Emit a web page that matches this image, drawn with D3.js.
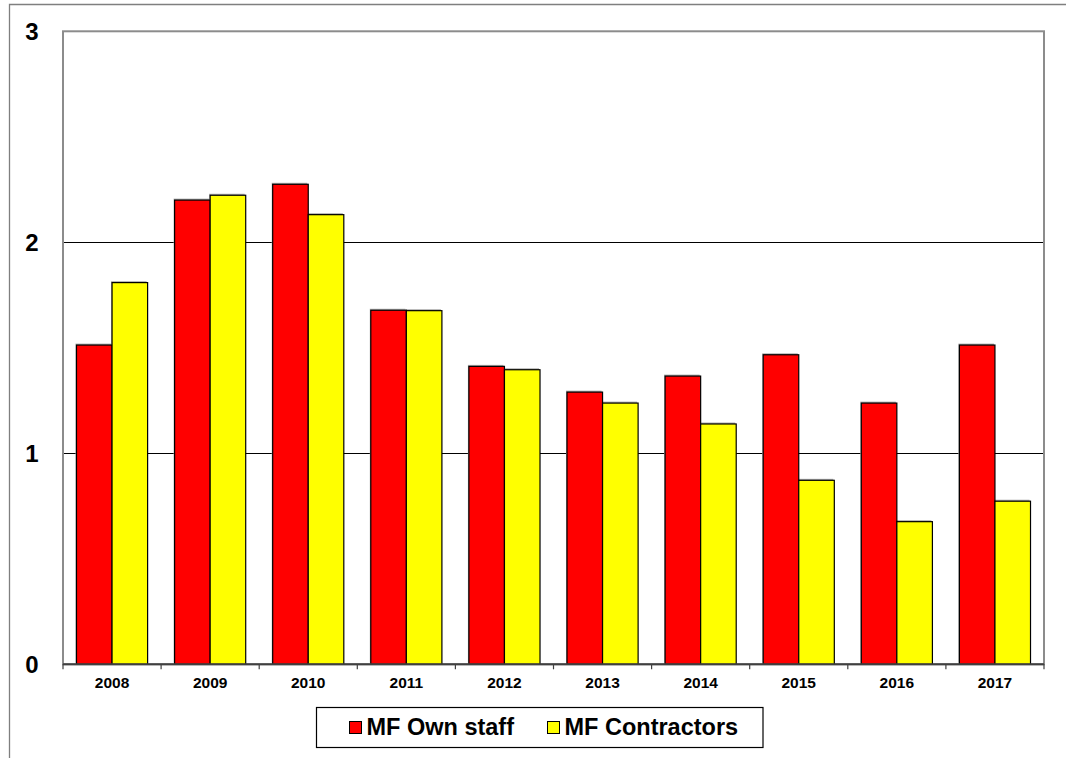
<!DOCTYPE html>
<html>
<head>
<meta charset="utf-8">
<script src="https://cdn.jsdelivr.net/npm/d3@7"></script>
<style>
  html, body { margin: 0; padding: 0; background: #fff; }
  svg { display: block; }
  text { font-family: "Liberation Sans", Arial, sans-serif; font-weight: bold; fill: #000; }
</style>
</head>
<body>
<svg id="chart" width="1066" height="758"></svg>
<script>
// Yearly values for the two staff groups
const years = ["2008", "2009", "2010", "2011", "2012", "2013", "2014", "2015", "2016", "2017"];
const ownStaff = [1.513, 2.20, 2.275, 1.678, 1.412, 1.29, 1.366, 1.467, 1.238, 1.513];
const contractors = [1.809, 2.223, 2.131, 1.676, 1.396, 1.238, 1.139, 0.872, 0.676, 0.773];
const seriesNames = ["MF Own staff", "MF Contractors"];
const seriesColors = ["#ff0000", "#ffff00"];
const yTicks = [0, 1, 2, 3];

const svg = d3.select("#chart");

// Outer chart frame (runs off the right and bottom edges)
svg.append("path")
  .attr("d", "M9.5,760 L9.5,4.5 L1070,4.5")
  .attr("fill", "none")
  .attr("stroke", "#7f7f7f")
  .attr("stroke-width", 1.3);

const plot = { left: 63, right: 1044, top: 31.3, bottom: 664.3 };

const x = d3.scaleBand()
  .domain(years)
  .range([plot.left, plot.right])
  .paddingInner(0.275)
  .paddingOuter(0.1375);

const xSeries = d3.scaleBand()
  .domain(seriesNames)
  .range([0, x.bandwidth()]);

const y = d3.scaleLinear()
  .domain([0, 3])
  .range([plot.bottom, plot.top]);

// Horizontal gridlines
svg.append("g")
  .selectAll("line")
  .data(yTicks.filter(t => t > 0 && t < 3))
  .join("line")
  .attr("x1", plot.left)
  .attr("x2", plot.right)
  .attr("y1", d => Math.round(y(d)) + 0.5)
  .attr("y2", d => Math.round(y(d)) + 0.5)
  .attr("stroke", "#000")
  .attr("stroke-width", 1);

// Plot area frame
svg.append("rect")
  .attr("x", plot.left)
  .attr("y", plot.top)
  .attr("width", plot.right - plot.left)
  .attr("height", plot.bottom - plot.top)
  .attr("fill", "none")
  .attr("stroke", "#8c8c8c")
  .attr("stroke-width", 2);

// Bars
const rows = years.map((yr, i) => ({ year: yr, values: [ownStaff[i], contractors[i]] }));

const groups = svg.append("g")
  .selectAll("g")
  .data(rows)
  .join("g")
  .attr("transform", d => `translate(${x(d.year)},0)`);

// soft shadow behind each bar
groups.selectAll("rect.shadow")
  .data(d => d.values.map((v, k) => ({ v, k })))
  .join("rect")
  .attr("class", "shadow")
  .attr("x", d => xSeries(seriesNames[d.k]) - 1)
  .attr("y", d => y(d.v) - 1.5)
  .attr("width", xSeries.bandwidth())
  .attr("height", d => y(0) - y(d.v))
  .attr("fill", "#b0b0b0");

groups.selectAll("rect.bar")
  .data(d => d.values.map((v, k) => ({ v, k })))
  .join("rect")
  .attr("class", "bar")
  .attr("x", d => xSeries(seriesNames[d.k]))
  .attr("y", d => y(d.v))
  .attr("width", xSeries.bandwidth())
  .attr("height", d => y(0) - y(d.v))
  .attr("fill", d => seriesColors[d.k])
  .attr("stroke", "#000")
  .attr("stroke-width", 1.2);

// X axis
const xAxisG = svg.append("g")
  .attr("transform", `translate(0,${plot.bottom})`);

xAxisG.append("line")
  .attr("x1", plot.left)
  .attr("x2", plot.right)
  .attr("y1", 0)
  .attr("y2", 0)
  .attr("stroke", "#404040")
  .attr("stroke-width", 2);

const boundaries = d3.range(years.length + 1).map(i => plot.left + i * (plot.right - plot.left) / years.length);
xAxisG.selectAll("line.tick")
  .data(boundaries)
  .join("line")
  .attr("class", "tick")
  .attr("x1", d => d)
  .attr("x2", d => d)
  .attr("y1", 0)
  .attr("y2", 5)
  .attr("stroke", "#404040")
  .attr("stroke-width", 1.2);

xAxisG.selectAll("text")
  .data(years)
  .join("text")
  .attr("x", d => x(d) + x.bandwidth() / 2)
  .attr("y", 24.2)
  .attr("text-anchor", "middle")
  .attr("font-size", "15.5px")
  .text(d => d);

// Y axis labels
svg.append("g")
  .selectAll("text")
  .data(yTicks)
  .join("text")
  .attr("x", 32)
  .attr("y", d => y(d) + 8.4)
  .attr("text-anchor", "middle")
  .attr("font-size", "24px")
  .text(d => d);

// Legend
const legend = svg.append("g");
legend.append("rect")
  .attr("x", 316.5)
  .attr("y", 707.5)
  .attr("width", 446.5)
  .attr("height", 40)
  .attr("fill", "#fff")
  .attr("stroke", "#000")
  .attr("stroke-width", 1.2);

const legendX = [349, 547];
seriesNames.forEach((name, k) => {
  legend.append("rect")
    .attr("x", legendX[k] + 0.5)
    .attr("y", 721.5)
    .attr("width", 12)
    .attr("height", 12)
    .attr("fill", seriesColors[k])
    .attr("stroke", "#000")
    .attr("stroke-width", 1);
  legend.append("text")
    .attr("x", legendX[k] + 17.5)
    .attr("y", 735)
    .attr("font-size", "23.5px")
    .text(name);
});
</script>
</body>
</html>
